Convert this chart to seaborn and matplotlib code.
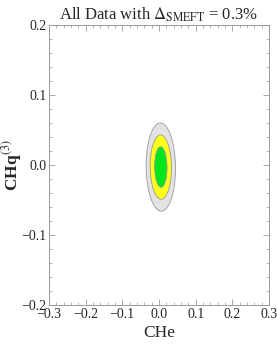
import matplotlib.pyplot as plt
import seaborn as sns
from matplotlib.patches import Ellipse
from matplotlib.ticker import MultipleLocator

# Regiões de confiança (centro, semi-eixos, ângulo)
niveis = ['3sigma', '2sigma', '1sigma']
centro_x = [0.005, 0.005, 0.005]
centro_y = [-0.003, -0.003, -0.003]
semi_x = [0.040, 0.029, 0.017]
semi_y = [0.063, 0.046, 0.029]
angulo = [2, 2, 2]
cores = ['#e3e3e3', '#ffff1a', '#00e61a']

sns.set_style('ticks')
plt.rcParams['font.family'] = ['Liberation Serif', 'DejaVu Serif']
plt.rcParams['mathtext.fontset'] = 'stix'

fig = plt.figure(figsize=(2.77, 3.46), dpi=100)
ax = fig.add_axes([0.177, 0.1185, 0.794, 0.8095])

for cx, cy, sx, sy, a, c in zip(centro_x, centro_y, semi_x, semi_y, angulo, cores):
    ax.add_patch(Ellipse((cx, cy), 2 * sx, 2 * sy, angle=a, facecolor=c,
                         edgecolor='#999999', linewidth=0.6))

ax.set_xlim(-0.3, 0.3)
ax.set_ylim(-0.2, 0.2)
ax.xaxis.set_major_locator(MultipleLocator(0.1))
ax.xaxis.set_minor_locator(MultipleLocator(0.02))
ax.yaxis.set_major_locator(MultipleLocator(0.1))
ax.yaxis.set_minor_locator(MultipleLocator(0.02))
ax.xaxis.set_major_formatter(plt.FuncFormatter(lambda v, p: f'{v:.1f}'.replace('-', '\u2212')))
ax.yaxis.set_major_formatter(plt.FuncFormatter(lambda v, p: f'{v:.1f}'.replace('-', '\u2212')))
ax.tick_params(which='both', direction='in', top=True, right=True, color='#999999',
               labelsize=10, pad=2)
ax.tick_params(which='major', length=4, width=0.6)
ax.tick_params(which='minor', length=2, width=0.5)
for s in ax.spines.values():
    s.set_color('#999999')
    s.set_linewidth(0.7)

ax.set_xlabel('CHe', fontsize=12.5, labelpad=3)
ax.set_ylabel('CHq$^{(3)}$', fontsize=12.5, fontweight='bold')
ax.yaxis.set_label_coords(-0.115, 0.5)
ax.set_title(r'All Data with $\Delta_{\rm SMEFT}$ = 0.3%', fontsize=12, pad=4)

fig.savefig('out.png', dpi=100)
